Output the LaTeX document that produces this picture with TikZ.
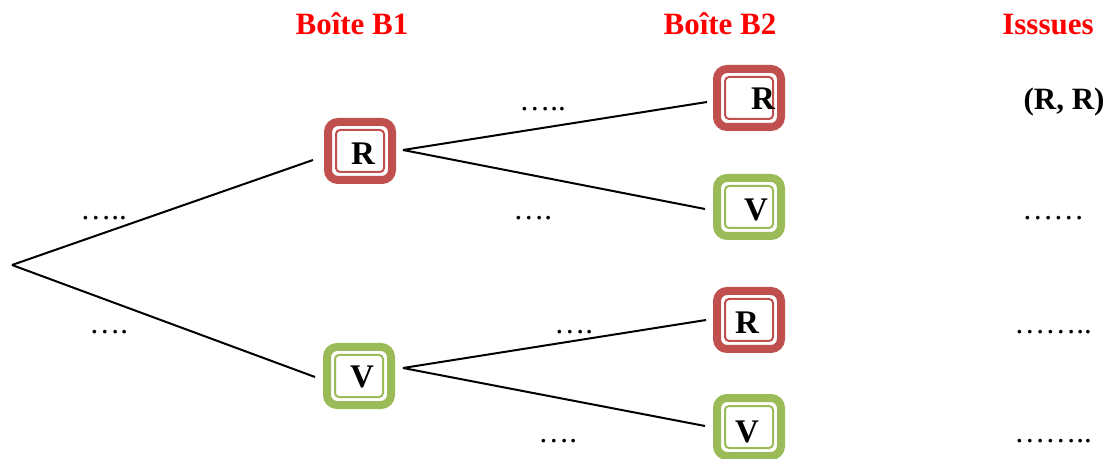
\documentclass[tikz,border=0pt]{standalone}
\usepackage{fontspec}
\setmainfont{Liberation Serif}
\definecolor{boxred}{HTML}{C0504D}
\definecolor{boxgreen}{HTML}{9BBB59}
\definecolor{titred}{HTML}{FF0000}
\begin{document}
\begin{tikzpicture}[x=0.5pt,y=-0.5pt,
  box/.style={draw=#1, line width=4pt, rounded corners=5pt, minimum width=32pt, minimum height=29pt, inner sep=0pt, outer sep=0pt},
  inbox/.style={draw=#1, line width=1pt, rounded corners=2pt},
  lett/.style={font=\fontsize{16.5}{19}\selectfont\bfseries, inner sep=0pt},
  title/.style={font=\fontsize{15.5}{18}\selectfont\bfseries, text=titred, anchor=base, inner sep=0pt},
  dots/.style={font=\fontsize{15.5}{18}\selectfont, anchor=base west, inner sep=0pt},
  issue/.style={font=\fontsize{15.5}{18}\selectfont\bfseries, anchor=base, inner sep=0pt},
  branch/.style={line width=1pt}
]
\useasboundingbox (0,0) rectangle (1107,459);

% titles
\node[title] (t1) at (352,35) {Boîte B1};
\node[title] (t2) at (720,35) {Boîte B2};
\node[title] (t3) at (1048,35) {Isssues};

% boxes
\node[box=boxred]   (r1) at (360,151) {};
\node[box=boxgreen] (v1) at (359,376) {};
\node[box=boxred]   (r2) at (749,98) {};
\node[box=boxgreen] (v2) at (749,207) {};
\node[box=boxred]   (r3) at (749,320) {};
\node[box=boxgreen] (v3) at (749,427) {};

\draw[inbox=boxred]   ([shift={(4pt,-4pt)}]r1.north west) rectangle ([shift={(-4pt,4pt)}]r1.south east);
\draw[inbox=boxgreen] ([shift={(4pt,-4pt)}]v1.north west) rectangle ([shift={(-4pt,4pt)}]v1.south east);
\draw[inbox=boxred]   ([shift={(4pt,-4pt)}]r2.north west) rectangle ([shift={(-4pt,4pt)}]r2.south east);
\draw[inbox=boxgreen] ([shift={(4pt,-4pt)}]v2.north west) rectangle ([shift={(-4pt,4pt)}]v2.south east);
\draw[inbox=boxred]   ([shift={(4pt,-4pt)}]r3.north west) rectangle ([shift={(-4pt,4pt)}]r3.south east);
\draw[inbox=boxgreen] ([shift={(4pt,-4pt)}]v3.north west) rectangle ([shift={(-4pt,4pt)}]v3.south east);

% letters
\node[lett] (r1t) at (363,154) {R};
\node[lett] (v1t) at (362,377) {V};
\node[lett] (r2t) at (763,98.5) {R};
\node[lett] (v2t) at (756,209.5) {V};
\node[lett] (r3t) at (747,322.5) {R};
\node[lett] (v3t) at (747,431.5) {V};

% branches
\coordinate (root) at (12,265);
\draw[branch] (root) -- ([shift={(-7.5pt,-4.5pt)}]r1.west);
\draw[branch] (root) -- ([shift={(-6pt,-0.5pt)}]v1.west);
\draw[branch] ([shift={(5.5pt,0.5pt)}]r1.east) -- ([shift={(-5pt,-2pt)}]r2.west);
\draw[branch] ([shift={(5.5pt,0.5pt)}]r1.east) -- ([shift={(-6pt,-1pt)}]v2.west);
\draw[branch] ([shift={(6pt,4pt)}]v1.east) -- ([shift={(-5.5pt,0pt)}]r3.west);
\draw[branch] ([shift={(6pt,4pt)}]v1.east) -- ([shift={(-6pt,0.5pt)}]v3.west);

% probability placeholders
\node[dots] (p1) at (80,220) {…..};
\node[dots] (p2) at (89,334) {….};
\node[dots] (p3) at (519,111) {…..};
\node[dots] (p4) at (513,220) {….};
\node[dots] (p5) at (554,334) {….};
\node[dots] (p6) at (538,442) {….};

% outcomes
\node[issue] (o1) at (1064,110) {(R, R)};
\node[dots] (o2) at (1022,220) {……};
\node[dots] (o3) at (1014,334) {……..};
\node[dots] (o4) at (1014,442) {……..};
\end{tikzpicture}
\end{document}
